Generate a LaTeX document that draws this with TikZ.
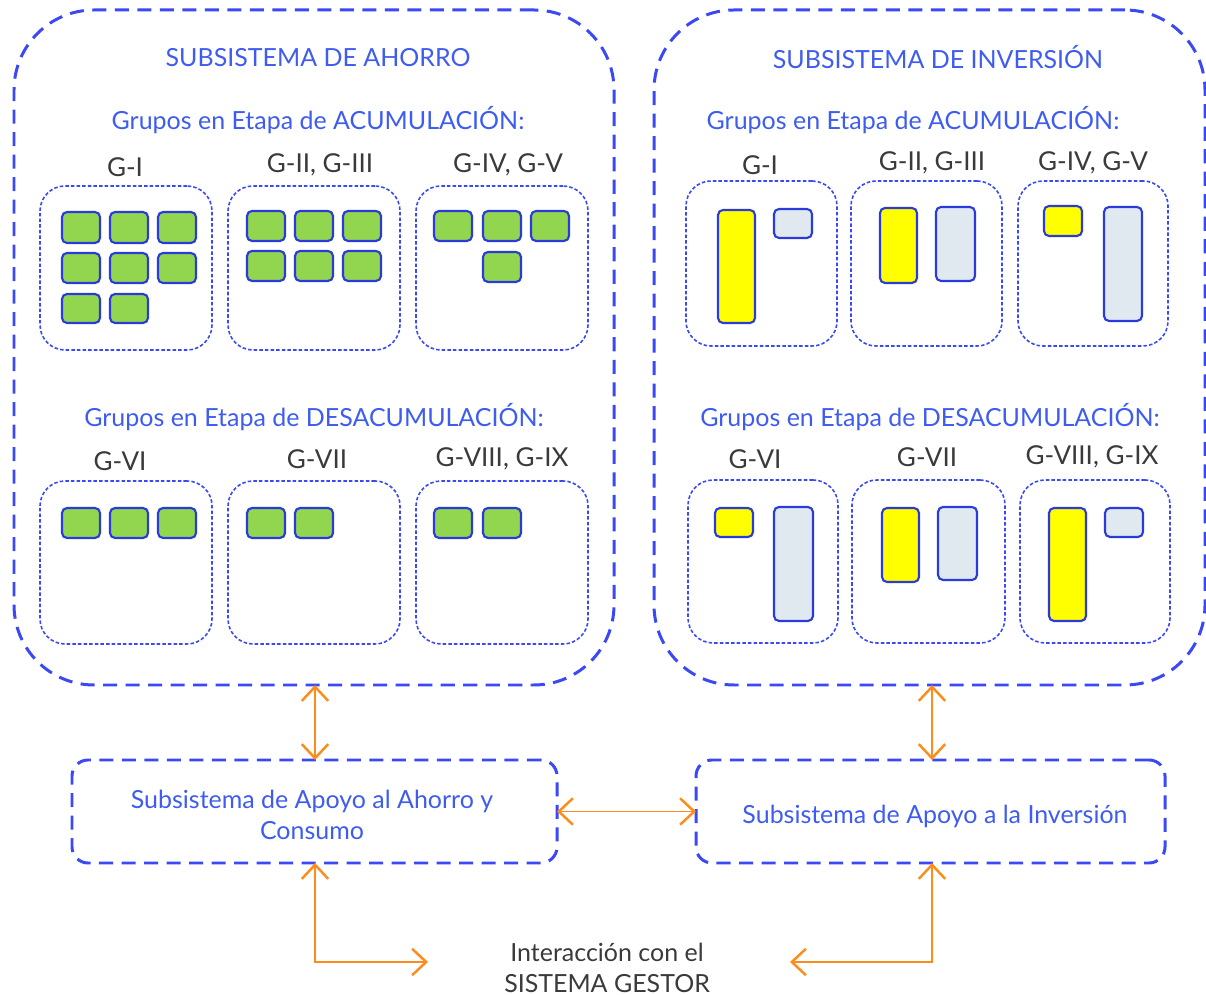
\documentclass[tikz,border=0pt]{standalone}
\usepackage{fontspec}
\setmainfont{Lato}
\usetikzlibrary{arrows.meta}
\definecolor{dblue}{HTML}{3A48F5}
\definecolor{tblue}{HTML}{3E5CF0}
\definecolor{bblue}{HTML}{2A3ADB}
\definecolor{gfill}{HTML}{92D650}
\definecolor{yfill}{HTML}{FFFF00}
\definecolor{sfill}{HTML}{E0E8F0}
\definecolor{orng}{HTML}{FF8C1A}
\definecolor{tgrey}{HTML}{3A3A3A}
\newcommand\bx[6]{\node[#6, inner sep=0pt, outer sep=0pt, minimum width={(#4-#2)*0.01cm}, minimum height={(#5-#3)*0.01cm}] (#1) at ({(#2+#4)/2},{(#3+#5)/2}) {};}
\tikzset{
  bigbox/.style={draw=dblue, line width=0.85pt, dash pattern=on 4pt off 2.4pt, rounded corners=0.8cm},
  supbox/.style={draw=dblue, line width=0.85pt, dash pattern=on 4pt off 2.4pt, rounded corners=0.16cm},
  grpbox/.style={draw=dblue, line width=0.45pt, dash pattern=on 1pt off 0.6pt, rounded corners=0.25cm},
  gsq/.style={draw=bblue, fill=gfill, line width=0.6pt, rounded corners=0.05cm},
  ysq/.style={draw=bblue, fill=yfill, line width=0.6pt, rounded corners=0.05cm},
  ssq/.style={draw=bblue, fill=sfill, line width=0.6pt, rounded corners=0.05cm},
  ttl/.style={text=tblue, font=\fontsize{7.1}{8.6}\selectfont},
  glab/.style={text=tgrey, font=\fontsize{7.4}{8.8}\selectfont},
  arr/.style={draw=orng, line width=0.55pt, {Straight Barb[length=4pt,width=7.5pt,line width=0.7pt]}-{Straight Barb[length=4pt,width=7.5pt,line width=0.7pt]}}
}
\begin{document}
\begin{tikzpicture}[x=0.01cm,y=-0.01cm]
\useasboundingbox (0,0) rectangle (1206,995);
% big boxes
\bx{bigL}{14}{10}{614}{685}{bigbox}
\bx{bigR}{654}{10}{1205}{685}{bigbox}
\node[ttl] (tL) at (318,58) {SUBSISTEMA DE AHORRO};
\node[ttl] (tR) at (938,57) {SUBSISTEMA DE INVERSIÓN};
\node[ttl] (aL) at (318,120) {Grupos en Etapa de ACUMULACIÓN:};
\node[ttl] (aR) at (913,120) {Grupos en Etapa de ACUMULACIÓN:};
\node[ttl] (dL) at (314,417) {Grupos en Etapa de DESACUMULACIÓN:};
\node[ttl] (dR) at (930,417) {Grupos en Etapa de DESACUMULACIÓN:};
% left group labels
\node[glab] (l1) at (125,167) {G-I};
\node[glab] (l2) at (320,165) {G-II, G-III};
\node[glab] (l3) at (508,165) {G-IV, G-V};
\node[glab] (l4) at (120,461) {G-VI};
\node[glab] (l5) at (317,459) {G-VII};
\node[glab] (l6) at (502,459) {G-VIII, G-IX};
% right group labels
\node[glab] (r1) at (760,165) {G-I};
\node[glab] (r2) at (932,163) {G-II, G-III};
\node[glab] (r3) at (1093,163) {G-IV, G-V};
\node[glab] (r4) at (755,459) {G-VI};
\node[glab] (r5) at (927,457) {G-VII};
\node[glab] (r6) at (1092,457) {G-VIII, G-IX};
% left group boxes
\bx{gL1}{40}{186}{212}{350}{grpbox}
\bx{gL2}{228}{186}{400}{350}{grpbox}
\bx{gL3}{416}{186}{588}{350}{grpbox}
\bx{gL4}{40}{481}{212}{644}{grpbox}
\bx{gL5}{228}{481}{400}{644}{grpbox}
\bx{gL6}{416}{481}{588}{644}{grpbox}
% right group boxes
\bx{gR1}{686}{181}{837}{346}{grpbox}
\bx{gR2}{851}{181}{1002}{346}{grpbox}
\bx{gR3}{1018}{181}{1168}{346}{grpbox}
\bx{gR4}{688}{480}{838}{643}{grpbox}
\bx{gR5}{852}{480}{1005}{643}{grpbox}
\bx{gR6}{1020}{480}{1170}{643}{grpbox}
% green squares G-I
\bx{s11}{62}{212}{100}{243}{gsq}
\bx{s12}{110}{212}{148}{243}{gsq}
\bx{s13}{158}{212}{196}{243}{gsq}
\bx{s14}{62}{253}{100}{283}{gsq}
\bx{s15}{110}{253}{148}{283}{gsq}
\bx{s16}{158}{253}{196}{283}{gsq}
\bx{s17}{62}{294}{100}{323}{gsq}
\bx{s18}{110}{294}{148}{323}{gsq}
% G-II
\bx{s21}{247}{211}{285}{241}{gsq}
\bx{s22}{295}{211}{333}{241}{gsq}
\bx{s23}{343}{211}{381}{241}{gsq}
\bx{s24}{247}{251}{285}{281}{gsq}
\bx{s25}{295}{251}{333}{281}{gsq}
\bx{s26}{343}{251}{381}{281}{gsq}
% G-IV
\bx{s31}{434}{211}{472}{241}{gsq}
\bx{s32}{483}{211}{521}{241}{gsq}
\bx{s33}{531}{211}{569}{241}{gsq}
\bx{s34}{483}{252}{521}{282}{gsq}
% G-VI
\bx{s41}{62}{508}{100}{538}{gsq}
\bx{s42}{110}{508}{148}{538}{gsq}
\bx{s43}{158}{508}{196}{538}{gsq}
% G-VII
\bx{s51}{247}{508}{285}{538}{gsq}
\bx{s52}{295}{508}{333}{538}{gsq}
% G-VIII
\bx{s61}{434}{508}{472}{538}{gsq}
\bx{s62}{483}{508}{521}{538}{gsq}
% right bars
\bx{y1}{718}{210}{755}{323}{ysq}
\bx{b1}{774}{209}{812}{238}{ssq}
\bx{y2}{880}{208}{917}{283}{ysq}
\bx{b2}{936}{207}{975}{281}{ssq}
\bx{y3}{1044}{206}{1082}{236}{ysq}
\bx{b3}{1104}{207}{1142}{321}{ssq}
\bx{y4}{715}{508}{753}{537}{ysq}
\bx{b4}{774}{507}{813}{621}{ssq}
\bx{y5}{882}{508}{919}{582}{ysq}
\bx{b5}{938}{507}{977}{580}{ssq}
\bx{y6}{1049}{508}{1086}{621}{ysq}
\bx{b6}{1105}{508}{1143}{537}{ssq}
% support boxes
\bx{supL}{72}{760}{557}{863}{supbox}
\bx{supR}{696}{760}{1165}{863}{supbox}
\node[ttl, align=center] (supLt) at (312,815) {Subsistema de Apoyo al Ahorro y\\Consumo};
\node[ttl] (supRt) at (935,816) {Subsistema de Apoyo a la Inversión};
\node[glab, align=center, font=\fontsize{7.1}{8.8}\selectfont] (gest) at (607,968) {Interacción con el\\SISTEMA GESTOR};
% arrows
\coordinate (ax1) at (315,0);
\coordinate (ax2) at (932,0);
\coordinate (gl) at (428,962);
\coordinate (gr) at (790,962);
\draw[arr] (ax1 |- bigL.south) -- (ax1 |- supL.north);
\draw[arr] (ax2 |- bigR.south) -- (ax2 |- supR.north);
\draw[arr] (supL.east) -- (supR.west);
\draw[arr] (ax1 |- supL.south) |- (gl);
\draw[arr] (ax2 |- supR.south) |- (gr);
\end{tikzpicture}
\end{document}
